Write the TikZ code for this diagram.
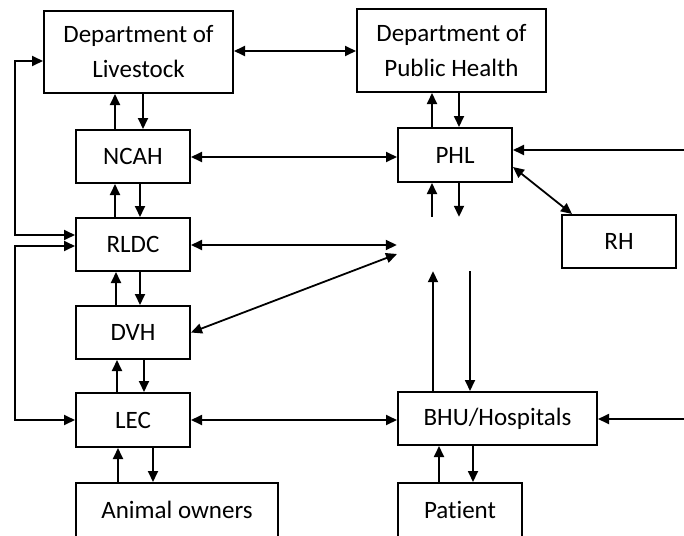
\documentclass[tikz,border=0pt]{standalone}
\usepackage{fontspec}
\setmainfont{Carlito}[RawFeature={-liga}]
\usetikzlibrary{arrows.meta}
\tikzset{
  box/.style={draw, line width=2pt, rectangle, inner sep=0pt, align=center,
    font=\fontsize{25}{35}\selectfont},
  hid/.style={rectangle, inner sep=0pt},
  conn/.style={line width=1.8pt, -{Triangle[length=11pt,width=10pt]}},
  bconn/.style={line width=1.8pt, {Triangle[length=11pt,width=10pt]}-{Triangle[length=11pt,width=10pt]}}
}
\begin{document}
\begin{tikzpicture}[x=1pt,y=-1pt]
\useasboundingbox (0,0) rectangle (684,535);
\clip (0,0) rectangle (684,535);
% nodes
\node[box, minimum width=189pt, minimum height=82pt] (DL) at (138.5,52) {Department of\\Livestock};
\node[box, minimum width=189pt, minimum height=83pt] (DPH) at (451.5,50.5) {Department of\\Public Health};
\node[box, minimum width=114pt, minimum height=53pt] (NCAH) at (133,156.5) {NCAH};
\node[box, minimum width=114pt, minimum height=54pt] (PHL) at (455,155) {PHL};
\node[box, minimum width=114pt, minimum height=53pt] (RH) at (619,241.5) {RH};
\node[box, minimum width=114pt, minimum height=53pt] (RLDC) at (133,244.5) {RLDC};
\node[box, minimum width=114pt, minimum height=53pt] (DVH) at (133,332.5) {DVH};
\node[box, minimum width=114pt, minimum height=54pt] (LEC) at (133,420) {LEC};
\node[box, minimum width=202pt, minimum height=54pt] (AO) at (177,510) {Animal owners};
\node[box, minimum width=199pt, minimum height=53pt] (BHU) at (497.5,418.5) {BHU/Hospitals};
\node[box, minimum width=124pt, minimum height=54pt] (PAT) at (460,510) {Patient};
\node[hid, minimum width=116pt, minimum height=54pt] (C) at (455,244) {};
% free ends
\coordinate (rPHL) at (684,150);
\coordinate (rBHU) at (684,419);
\coordinate (lA) at (15,235);
\coordinate (lB) at (15,61);
\coordinate (lC) at (15,246);
\coordinate (lD) at (15,420);
\coordinate (cDVH) at (397,254);
\coordinate (hN) at (0,157);
\coordinate (hR) at (0,245);
% top link
\draw[bconn] (DL.east |- 0,51) -- (DPH.west |- 0,51);
% vertical pairs left
\draw[conn] (NCAH.north -| 115,0) -- (DL.south -| 115,0);
\draw[conn] (DL.south -| 143,0) -- (NCAH.north -| 143,0);
\draw[conn] (RLDC.north -| 115,0) -- (NCAH.south -| 115,0);
\draw[conn] (NCAH.south -| 140,0) -- (RLDC.north -| 140,0);
\draw[conn] (DVH.north -| 116,0) -- (RLDC.south -| 116,0);
\draw[conn] (RLDC.south -| 140,0) -- (DVH.north -| 140,0);
\draw[conn] (LEC.north -| 117,0) -- (DVH.south -| 117,0);
\draw[conn] (DVH.south -| 144,0) -- (LEC.north -| 144,0);
\draw[conn] (AO.north -| 118,0) -- (LEC.south -| 118,0);
\draw[conn] (LEC.south -| 153,0) -- (AO.north -| 153,0);
% vertical pairs right
\draw[conn] (PHL.north -| 432,0) -- (DPH.south -| 432,0);
\draw[conn] (DPH.south -| 459,0) -- (PHL.north -| 459,0);
\draw[conn] (C.north -| 432,0) -- (PHL.south -| 432,0);
\draw[conn] (PHL.south -| 459,0) -- (C.north -| 459,0);
\draw[conn] (BHU.north -| 433,0) -- (C.south -| 433,0);
\draw[conn] (C.south -| 470,0) -- (BHU.north -| 470,0);
\draw[conn] (PAT.north -| 439,0) -- (BHU.south -| 439,0);
\draw[conn] (BHU.south -| 473,0) -- (PAT.north -| 473,0);
% left loops
\draw[bconn] (RLDC.west |- lA) -- (lA) -- (lB) -- (DL.west |- lB);
\draw[bconn] (RLDC.west |- lC) -- (lC) -- (lD) -- (LEC.west |- lD);
% horizontals
\draw[bconn] (NCAH.east |- hN) -- (PHL.west |- hN);
\draw[bconn] (RLDC.east |- hR) -- (C.west |- hR);
\draw[bconn] (DVH.east) -- (cDVH);
\draw[bconn] (LEC.east) -- (BHU.west |- LEC.east);
\draw[conn] (rPHL) -- (PHL.east |- rPHL);
\draw[conn] (rBHU) -- (BHU.east |- rBHU);
\draw[bconn] ([yshift=-12pt]PHL.east) -- ([xshift=11pt]RH.north west);
\end{tikzpicture}
\end{document}
